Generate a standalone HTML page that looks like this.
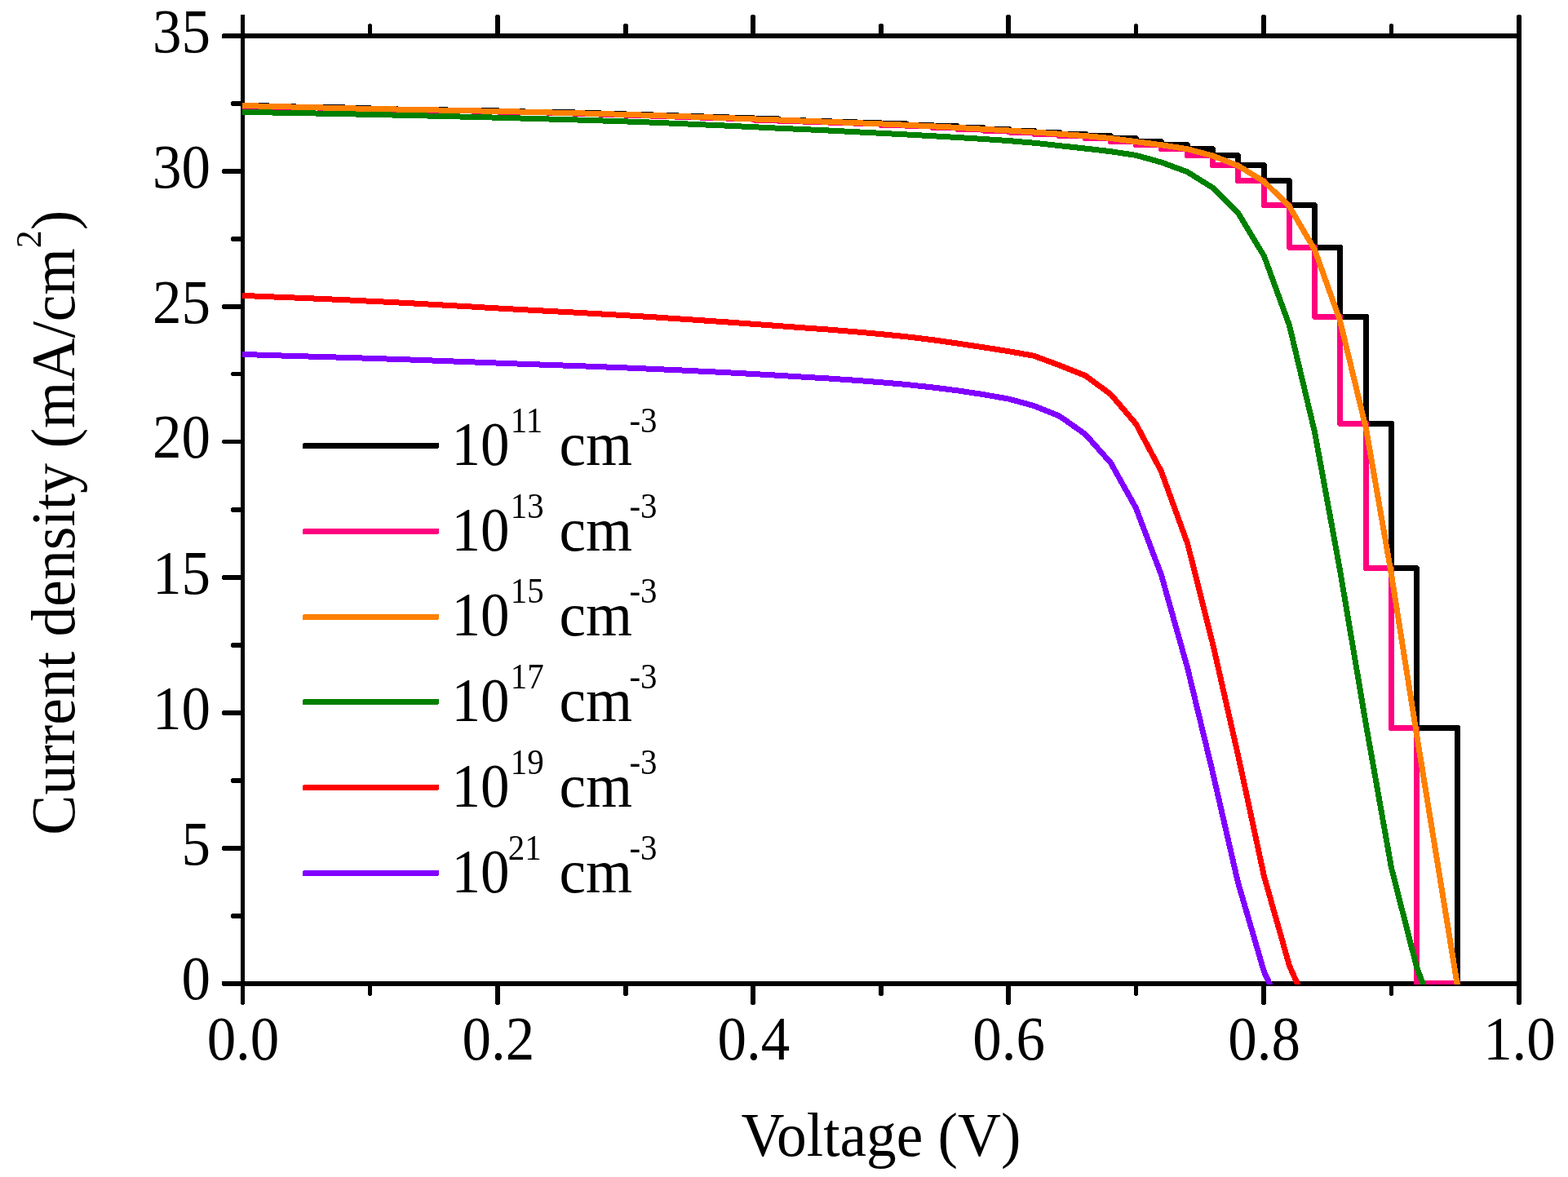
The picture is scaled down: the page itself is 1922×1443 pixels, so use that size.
<!DOCTYPE html>
<html lang="en">
<head>
<meta charset="utf-8">
<title>Current density vs Voltage</title>
<style>
html,body{margin:0;padding:0;background:#fff;}
body{width:1922px;height:1443px;overflow:hidden;}
svg{display:block;}
text{font-family:"Liberation Serif","Times New Roman",serif;fill:#000;}
</style>
</head>
<body>
<svg width="1922" height="1443" viewBox="0 0 1922 1443" role="img" aria-label="Current density versus voltage for six doping concentrations">
<rect width="1922" height="1443" fill="#fff"/>
<defs><clipPath id="plot"><rect x="297" y="0" width="1569" height="1207"/></clipPath></defs>
<g fill="#000" shape-rendering="crispEdges">
<rect x="295" y="18" width="5" height="1213"/>
<rect x="296" y="1231" width="3" height="1"/>
<rect x="1859" y="19" width="6" height="1212"/>
<rect x="1860" y="18" width="4" height="1"/>
<rect x="1860" y="1231" width="4" height="1"/>
<rect x="273" y="41" width="1592" height="6"/>
<rect x="272" y="42" width="1" height="5"/>
<rect x="273" y="1203" width="1592" height="6"/>
<rect x="272" y="1203" width="1" height="5"/>
<rect x="451" y="30" width="5" height="11"/>
<rect x="452" y="29" width="3" height="1"/>
<rect x="451" y="1209" width="5" height="11"/>
<rect x="452" y="1220" width="3" height="1"/>
<rect x="607" y="19" width="6" height="22"/>
<rect x="608" y="18" width="4" height="1"/>
<rect x="607" y="1209" width="6" height="22"/>
<rect x="608" y="1231" width="4" height="1"/>
<rect x="764" y="30" width="6" height="11"/>
<rect x="765" y="29" width="4" height="1"/>
<rect x="764" y="1209" width="6" height="11"/>
<rect x="765" y="1220" width="4" height="1"/>
<rect x="920" y="19" width="6" height="22"/>
<rect x="921" y="18" width="4" height="1"/>
<rect x="920" y="1209" width="6" height="22"/>
<rect x="921" y="1231" width="4" height="1"/>
<rect x="1077" y="30" width="6" height="11"/>
<rect x="1078" y="29" width="4" height="1"/>
<rect x="1077" y="1209" width="6" height="11"/>
<rect x="1078" y="1220" width="4" height="1"/>
<rect x="1233" y="19" width="6" height="22"/>
<rect x="1234" y="18" width="4" height="1"/>
<rect x="1233" y="1209" width="6" height="22"/>
<rect x="1234" y="1231" width="4" height="1"/>
<rect x="1390" y="30" width="5" height="11"/>
<rect x="1391" y="29" width="3" height="1"/>
<rect x="1390" y="1209" width="5" height="11"/>
<rect x="1391" y="1220" width="3" height="1"/>
<rect x="1546" y="19" width="6" height="22"/>
<rect x="1547" y="18" width="4" height="1"/>
<rect x="1546" y="1209" width="6" height="22"/>
<rect x="1547" y="1231" width="4" height="1"/>
<rect x="1703" y="30" width="5" height="11"/>
<rect x="1704" y="29" width="3" height="1"/>
<rect x="1703" y="1209" width="5" height="11"/>
<rect x="1704" y="1220" width="3" height="1"/>
<rect x="284" y="1120" width="11" height="6"/>
<rect x="283" y="1121" width="1" height="4"/>
<rect x="273" y="1037" width="22" height="6"/>
<rect x="272" y="1038" width="1" height="4"/>
<rect x="284" y="954" width="11" height="6"/>
<rect x="283" y="955" width="1" height="4"/>
<rect x="273" y="871" width="22" height="6"/>
<rect x="272" y="872" width="1" height="4"/>
<rect x="284" y="788" width="11" height="6"/>
<rect x="283" y="789" width="1" height="4"/>
<rect x="273" y="705" width="22" height="6"/>
<rect x="272" y="706" width="1" height="4"/>
<rect x="284" y="622" width="11" height="6"/>
<rect x="283" y="623" width="1" height="4"/>
<rect x="273" y="539" width="22" height="5"/>
<rect x="272" y="540" width="1" height="3"/>
<rect x="284" y="456" width="11" height="5"/>
<rect x="283" y="457" width="1" height="3"/>
<rect x="273" y="373" width="22" height="6"/>
<rect x="272" y="374" width="1" height="4"/>
<rect x="284" y="290" width="11" height="6"/>
<rect x="283" y="291" width="1" height="4"/>
<rect x="273" y="207" width="22" height="6"/>
<rect x="272" y="208" width="1" height="4"/>
<rect x="284" y="124" width="11" height="6"/>
<rect x="283" y="125" width="1" height="4"/>
</g>
<g clip-path="url(#plot)" fill="none" stroke-width="7" stroke-linejoin="round" stroke-linecap="butt" shape-rendering="crispEdges">
<path stroke="#000000" d="M289.5 129.5 L297.5 129.5 L328.5 129.5 L328.5 130.3 L360.5 130.3 L360.5 131.1 L391.5 131.1 L391.5 131.9 L422.5 131.9 L422.5 132.7 L453.5 132.7 L453.5 133.4 L485.5 133.4 L485.5 134 L516.5 134 L516.5 134.6 L547.5 134.6 L547.5 135.2 L579.5 135.2 L579.5 135.8 L610.5 135.8 L610.5 136.4 L641.5 136.4 L641.5 137.1 L672.5 137.1 L672.5 137.9 L704.5 137.9 L704.5 138.7 L735.5 138.7 L735.5 139.5 L766.5 139.5 L766.5 140.4 L798.5 140.4 L798.5 141.4 L829.5 141.4 L829.5 142.4 L860.5 142.4 L860.5 143.5 L892.5 143.5 L892.5 144.7 L923.5 144.7 L923.5 145.9 L954.5 145.9 L954.5 147 L985.5 147 L985.5 148.2 L1017.5 148.2 L1017.5 149.4 L1048.5 149.4 L1048.5 150.6 L1079.5 150.6 L1079.5 151.9 L1111.5 151.9 L1111.5 153.3 L1142.5 153.3 L1142.5 154.8 L1173.5 154.8 L1173.5 156.4 L1204.5 156.4 L1204.5 158.2 L1236.5 158.2 L1236.5 160 L1267.5 160 L1267.5 162 L1298.5 162 L1298.5 164.2 L1330.5 164.2 L1330.5 166.6 L1361.5 166.6 L1361.5 169.5 L1392.5 169.5 L1392.5 173.7 L1423.5 173.7 L1423.5 177.7 L1455.5 177.7 L1455.5 182.8 L1486.5 182.8 L1486.5 190.7 L1517.5 190.7 L1517.5 202.5 L1549.5 202.5 L1549.5 221.6 L1580.5 221.6 L1580.5 251.5 L1611.5 251.5 L1611.5 303.4 L1642.5 303.4 L1642.5 388.4 L1674.5 388.4 L1674.5 519.3 L1705.5 519.3 L1705.5 696.6 L1736.5 696.6 L1736.5 892.5 L1786.6 892.5 L1786.6 1205.5 L1786.6 1217.5"/>
<path stroke="#ff007f" d="M297.5 129.5 L297.5 130.3 L328.5 130.3 L328.5 131.1 L360.5 131.1 L360.5 131.9 L391.5 131.9 L391.5 132.7 L422.5 132.7 L422.5 133.4 L453.5 133.4 L453.5 134 L485.5 134 L485.5 134.6 L516.5 134.6 L516.5 135.2 L547.5 135.2 L547.5 135.8 L579.5 135.8 L579.5 136.4 L610.5 136.4 L610.5 137.1 L641.5 137.1 L641.5 137.9 L672.5 137.9 L672.5 138.7 L704.5 138.7 L704.5 139.5 L735.5 139.5 L735.5 140.4 L766.5 140.4 L766.5 141.4 L798.5 141.4 L798.5 142.4 L829.5 142.4 L829.5 143.5 L860.5 143.5 L860.5 144.7 L892.5 144.7 L892.5 145.9 L923.5 145.9 L923.5 147 L954.5 147 L954.5 148.2 L985.5 148.2 L985.5 149.4 L1017.5 149.4 L1017.5 150.6 L1048.5 150.6 L1048.5 151.9 L1079.5 151.9 L1079.5 153.3 L1111.5 153.3 L1111.5 154.8 L1142.5 154.8 L1142.5 156.4 L1173.5 156.4 L1173.5 158.2 L1204.5 158.2 L1204.5 160 L1236.5 160 L1236.5 162 L1267.5 162 L1267.5 164.2 L1298.5 164.2 L1298.5 166.6 L1330.5 166.6 L1330.5 169.5 L1361.5 169.5 L1361.5 173.7 L1392.5 173.7 L1392.5 177.7 L1423.5 177.7 L1423.5 182.8 L1455.5 182.8 L1455.5 190.7 L1486.5 190.7 L1486.5 202.5 L1517.5 202.5 L1517.5 221.6 L1549.5 221.6 L1549.5 251.5 L1580.5 251.5 L1580.5 303.4 L1611.5 303.4 L1611.5 388.4 L1642.5 388.4 L1642.5 519.3 L1674.5 519.3 L1674.5 696.6 L1705.5 696.6 L1705.5 892.5 L1736.5 892.5 L1736.5 1205.5 L1790.1 1205.5"/>
<path stroke="#ff8000" d="M289.5 129.5 L297.5 129.5 L328.5 130.3 L360.5 131.1 L391.5 131.9 L422.5 132.7 L453.5 133.4 L485.5 134 L516.5 134.6 L547.5 135.2 L579.5 135.8 L610.5 136.4 L641.5 137.1 L672.5 137.9 L704.5 138.7 L735.5 139.5 L766.5 140.4 L798.5 141.4 L829.5 142.4 L860.5 143.5 L892.5 144.7 L923.5 145.9 L954.5 147 L985.5 148.2 L1017.5 149.4 L1048.5 150.6 L1079.5 151.9 L1111.5 153.3 L1142.5 154.8 L1173.5 156.4 L1204.5 158.2 L1236.5 160 L1267.5 162 L1298.5 164.2 L1330.5 166.6 L1361.5 169.5 L1392.5 173.7 L1423.5 177.7 L1455.5 182.8 L1486.5 191 L1517.5 203.1 L1549.5 222.6 L1580.5 253.2 L1611.5 306.2 L1642.5 392.9 L1674.5 525.7 L1705.5 704.3 L1736.5 900.6 L1786 1205.5 L1787.9 1217.5"/>
<path stroke="#008000" d="M289.5 137.4 L297.5 137.4 L328.5 137.9 L360.5 138.5 L391.5 139.1 L422.5 139.7 L453.5 140.4 L485.5 141.1 L516.5 141.8 L547.5 142.6 L579.5 143.4 L610.5 144.2 L641.5 145.1 L672.5 146 L704.5 146.9 L735.5 147.9 L766.5 148.9 L798.5 150.1 L829.5 151.4 L860.5 152.8 L892.5 154.2 L923.5 155.7 L954.5 157.2 L985.5 158.6 L1017.5 160.1 L1048.5 161.7 L1079.5 163.3 L1111.5 165 L1142.5 166.7 L1173.5 168.5 L1204.5 170.4 L1236.5 172.6 L1267.5 175.2 L1298.5 178.6 L1330.5 182.1 L1361.5 185.7 L1392.5 190.4 L1423.5 199 L1455.5 210.8 L1486.5 230.2 L1517.5 260.8 L1549.5 314 L1580.5 399 L1611.5 529.7 L1642.5 699 L1674.5 889 L1705.5 1064 L1736.5 1185.6 L1744 1205.5 L1748.6 1217.5"/>
<path stroke="#ff0000" d="M289.5 362.4 L297.5 362.4 L328.5 363.7 L360.5 365 L391.5 366.3 L422.5 367.7 L453.5 369.2 L485.5 370.8 L516.5 372.5 L547.5 374.3 L579.5 376.1 L610.5 378 L641.5 379.7 L672.5 381.4 L704.5 383.1 L735.5 384.9 L766.5 386.7 L798.5 388.6 L829.5 390.7 L860.5 392.8 L892.5 395 L923.5 397.3 L954.5 399.6 L985.5 401.9 L1017.5 404.2 L1048.5 406.8 L1079.5 409.6 L1111.5 412.8 L1142.5 416.6 L1173.5 421 L1204.5 425.7 L1236.5 430.7 L1267.5 436.3 L1298.5 447.8 L1330.5 460.6 L1361.5 483.4 L1392.5 519.8 L1423.5 578 L1455.5 666 L1486.5 789 L1517.5 925.5 L1549.5 1074.4 L1580.5 1184 L1590.1 1205.5 L1595.4 1217.5"/>
<path stroke="#8000ff" d="M289.5 434.4 L297.5 434.4 L328.5 435.5 L360.5 436.5 L391.5 437.4 L422.5 438.3 L453.5 439.3 L485.5 440.4 L516.5 441.5 L547.5 442.7 L579.5 443.9 L610.5 445.1 L641.5 446.3 L672.5 447.4 L704.5 448.5 L735.5 449.7 L766.5 450.9 L798.5 452.3 L829.5 453.7 L860.5 455.2 L892.5 456.8 L923.5 458.5 L954.5 460.3 L985.5 462.2 L1017.5 464.1 L1048.5 466.3 L1079.5 468.7 L1111.5 471.5 L1142.5 474.9 L1173.5 478.8 L1204.5 483.5 L1236.5 489.1 L1267.5 497.6 L1298.5 510 L1330.5 532.5 L1361.5 567.4 L1392.5 623 L1423.5 705 L1455.5 818.5 L1486.5 947 L1517.5 1082 L1549.5 1191.6 L1556 1205.5 L1561.6 1217.5"/>
</g>
<g shape-rendering="crispEdges">
<rect x="371" y="543" width="167" height="7" rx="2" fill="#000000"/>
<rect x="371" y="648" width="167" height="7" rx="2" fill="#ff007f"/>
<rect x="371" y="753" width="167" height="7" rx="2" fill="#ff8000"/>
<rect x="371" y="857" width="167" height="7" rx="2" fill="#008000"/>
<rect x="371" y="962" width="167" height="7" rx="2" fill="#ff0000"/>
<rect x="371" y="1067" width="167" height="7" rx="2" fill="#8000ff"/>
</g>
<text transform="translate(553.5 569.7) scale(0.94 1)" font-size="75.5" text-anchor="start">10</text>
<text transform="translate(625.8 529.7) scale(0.905 1)" font-size="45.2" text-anchor="start">11</text>
<text transform="translate(685.5 569.7) scale(0.971 1)" font-size="75.5" text-anchor="start">cm</text>
<text transform="translate(771.5 529.7) scale(0.905 1)" font-size="45.2" text-anchor="start">-3</text>
<text transform="translate(553.5 674.5) scale(0.94 1)" font-size="75.5" text-anchor="start">10</text>
<text transform="translate(625.8 634.5) scale(0.905 1)" font-size="45.2" text-anchor="start">13</text>
<text transform="translate(685.5 674.5) scale(0.971 1)" font-size="75.5" text-anchor="start">cm</text>
<text transform="translate(771.5 634.5) scale(0.905 1)" font-size="45.2" text-anchor="start">-3</text>
<text transform="translate(553.5 779.3) scale(0.94 1)" font-size="75.5" text-anchor="start">10</text>
<text transform="translate(625.8 739.3) scale(0.905 1)" font-size="45.2" text-anchor="start">15</text>
<text transform="translate(685.5 779.3) scale(0.971 1)" font-size="75.5" text-anchor="start">cm</text>
<text transform="translate(771.5 739.3) scale(0.905 1)" font-size="45.2" text-anchor="start">-3</text>
<text transform="translate(553.5 884.1) scale(0.94 1)" font-size="75.5" text-anchor="start">10</text>
<text transform="translate(625.8 844.1) scale(0.905 1)" font-size="45.2" text-anchor="start">17</text>
<text transform="translate(685.5 884.1) scale(0.971 1)" font-size="75.5" text-anchor="start">cm</text>
<text transform="translate(771.5 844.1) scale(0.905 1)" font-size="45.2" text-anchor="start">-3</text>
<text transform="translate(553.5 988.9) scale(0.94 1)" font-size="75.5" text-anchor="start">10</text>
<text transform="translate(625.8 948.9) scale(0.905 1)" font-size="45.2" text-anchor="start">19</text>
<text transform="translate(685.5 988.9) scale(0.971 1)" font-size="75.5" text-anchor="start">cm</text>
<text transform="translate(771.5 948.9) scale(0.905 1)" font-size="45.2" text-anchor="start">-3</text>
<text transform="translate(553.5 1093.7) scale(0.94 1)" font-size="75.5" text-anchor="start">10</text>
<text transform="translate(622.8 1053.7) scale(0.905 1)" font-size="45.2" text-anchor="start">21</text>
<text transform="translate(685.5 1093.7) scale(0.971 1)" font-size="75.5" text-anchor="start">cm</text>
<text transform="translate(771.5 1053.7) scale(0.905 1)" font-size="45.2" text-anchor="start">-3</text>
<text transform="translate(258 1225) scale(0.94 1)" font-size="75.5" text-anchor="end">0</text>
<text transform="translate(258 1059.5) scale(0.94 1)" font-size="75.5" text-anchor="end">5</text>
<text transform="translate(258 893.5) scale(0.94 1)" font-size="75.5" text-anchor="end">10</text>
<text transform="translate(258 727.5) scale(0.94 1)" font-size="75.5" text-anchor="end">15</text>
<text transform="translate(258 561) scale(0.94 1)" font-size="75.5" text-anchor="end">20</text>
<text transform="translate(258 395.7) scale(0.94 1)" font-size="75.5" text-anchor="end">25</text>
<text transform="translate(258 230) scale(0.94 1)" font-size="75.5" text-anchor="end">30</text>
<text transform="translate(258 64) scale(0.94 1)" font-size="75.5" text-anchor="end">35</text>
<text transform="translate(298 1299.3) scale(0.94 1)" font-size="75.5" text-anchor="middle">0.0</text>
<text transform="translate(610.9 1299.3) scale(0.94 1)" font-size="75.5" text-anchor="middle">0.2</text>
<text transform="translate(923.8 1299.3) scale(0.94 1)" font-size="75.5" text-anchor="middle">0.4</text>
<text transform="translate(1236.7 1299.3) scale(0.94 1)" font-size="75.5" text-anchor="middle">0.6</text>
<text transform="translate(1549.6 1299.3) scale(0.94 1)" font-size="75.5" text-anchor="middle">0.8</text>
<text transform="translate(1862.5 1299.3) scale(0.94 1)" font-size="75.5" text-anchor="middle">1.0</text>
<text transform="translate(1080 1417) scale(0.965 1)" font-size="76" text-anchor="middle">Voltage (V)</text>
<text transform="translate(90.5 1023.7) rotate(-90) scale(0.9686 1)" font-size="76" text-anchor="start">Current density (mA/cm<tspan font-size="45.2" dy="-41">2</tspan><tspan dy="41" dx="0">)</tspan></text>
</svg>
</body>
</html>
